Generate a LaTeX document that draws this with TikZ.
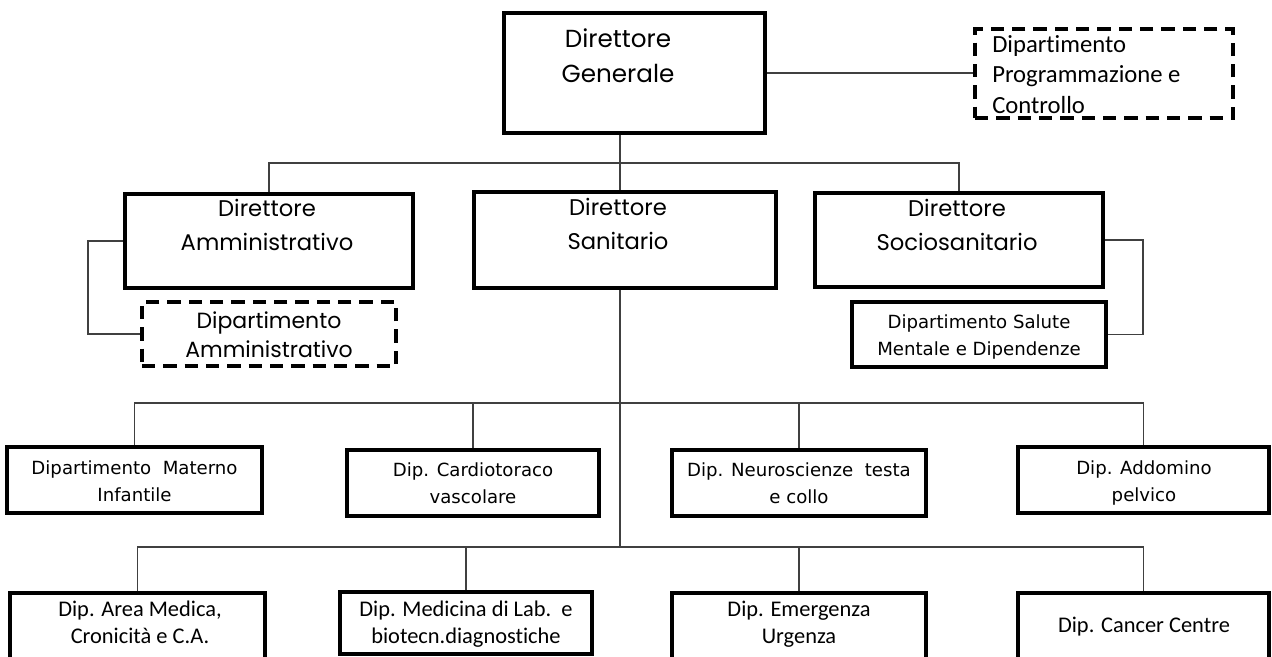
\documentclass[tikz,border=0pt]{standalone}
\usepackage{fontspec}
\setmainfont{DejaVu Sans}
\newfontfamily\fgo{Poppins}
\newfontfamily\fca[Ligatures=NoCommon]{Carlito}
\newfontfamily\fve{DejaVu Sans}
\usetikzlibrary{fit}
\begin{document}
\begin{tikzpicture}[x=0.75pt,y=-0.75pt,
  box/.style={draw=black, line width=2.7pt, inner sep=0pt, rectangle, fill=white},
  dbox/.style={box, dash pattern=on 10pt off 6pt},
  conn/.style={draw=black!75, line width=0.9pt},
  txt/.style={inner sep=0pt, align=center, text=black},
  dirf/.style={font={\fgo\fontsize{17}{26}\selectfont}},
  smf/.style={font={\fve\fontsize{13.6}{20.5}\selectfont}},
  caf/.style={font={\fca\fontsize{16.8}{20.25}\selectfont}},
  ]
\useasboundingbox (0,0) rectangle (1272,657);
\fill[white] (0,0) rectangle (1272,657);

% junction coordinates
\coordinate (j1) at (620,163);
\coordinate (la) at (88,0);
\coordinate (ra) at (1143,0);
\coordinate (b1) at (620,403);
\coordinate (b2) at (620,547);

% boxes
\node[box, fit={(504,13) (765,133)}] (dg) {};
\node[dbox, fit={(975,29) (1233,118)}] (pc) {};
\node[box, fit={(125,194) (413,288)}] (da) {};
\node[box, fit={(474,192) (776,288)}] (ds) {};
\node[box, fit={(815,193) (1103,287)}] (dsoc) {};
\node[dbox, fit={(142,302) (396,366)}] (damm) {};
\node[box, fit={(852,302) (1106,367)}] (sal) {};
\node[box, fit={(7,447) (262,513)}] (mat) {};
\node[box, fit={(347,450) (599,516)}] (car) {};
\node[box, fit={(672,450) (926,516)}] (neu) {};
\node[box, fit={(1018,447) (1269,513)}] (add) {};
\node[box, fit={(10,593) (265,662)}] (area) {};
\node[box, fit={(340,592) (592,654)}] (med) {};
\node[box, fit={(672,593) (926,662)}] (em) {};
\node[box, fit={(1018,593) (1269,662)}] (can) {};

% connectors
\draw[conn] (dg.south -| j1) -- (ds.north -| j1);
\draw[conn] (da.north) -- (da.north |- j1) -- (dsoc.north |- j1) -- (dsoc.north);
\draw[conn] (dg.east) -- (dg.east -| pc.west);
\draw[conn] (da.west) -- (da.west -| la) |- (damm.west);
\draw[conn] (dsoc.east) -- (dsoc.east -| ra) |- (sal.east);
\draw[conn] (ds.south -| b1) -- (b2);
\draw[conn] (mat.north) -- (mat.north |- b1) -- (add.north |- b1) -- (add.north);
\draw[conn] (car.north) -- (car.north |- b1);
\draw[conn] (neu.north) -- (neu.north |- b1);
\draw[conn] (area.north) -- (area.north |- b2) -- (can.north |- b2) -- (can.north);
\draw[conn] (med.north) -- (med.north |- b2);
\draw[conn] (em.north) -- (em.north |- b2);

% texts
\node[txt, font={\fgo\fontsize{18.5}{26}\selectfont}] (dgt) at (618,56) {Direttore\\Generale};
\node[txt, align=left, anchor=west, font={\fca\fontsize{18.5}{22.8}\selectfont}] (pct) at (992,74.5) {Dipartimento\\Programmazione e\\Controllo};
\node[txt, dirf] (dat) at (267,225) {Direttore\\Amministrativo};
\node[txt, dirf] (dst) at (618,224) {Direttore\\Sanitario};
\node[txt, dirf] (dsoct) at (957,225) {Direttore\\Sociosanitario};
\node[txt, font={\fgo\fontsize{16.5}{22}\selectfont}] (dammt) at (269,335) {Dipartimento\\Amministrativo};
\node[txt, smf] (salt) at (979,337) {Dipartimento Salute\\Mentale e Dipendenze};
\node[txt, smf] (matt) at (134.5,481.5) {Dipartimento\ \ Materno\\Infantile};
\node[txt, smf] (cart) at (473,483) {Dip. Cardiotoraco\\vascolare};
\node[txt, smf] (neut) at (799,483) {Dip. Neuroscienze\ \ testa\\e collo};
\node[txt, smf] (addt) at (1144,483) {Dip. Addomino\\pelvico};
\node[txt, caf] (areat) at (140,622) {Dip. Area Medica,\\Cronicità e C.A.};
\node[txt, caf] (medt) at (466,624) {Dip. Medicina di Lab.\ \ e\\biotecn.diagnostiche};
\node[txt, caf] (emt) at (799,624) {Dip. Emergenza\\Urgenza};
\node[txt, caf] (cant) at (1144,627) {Dip. Cancer Centre};
\end{tikzpicture}
\end{document}
